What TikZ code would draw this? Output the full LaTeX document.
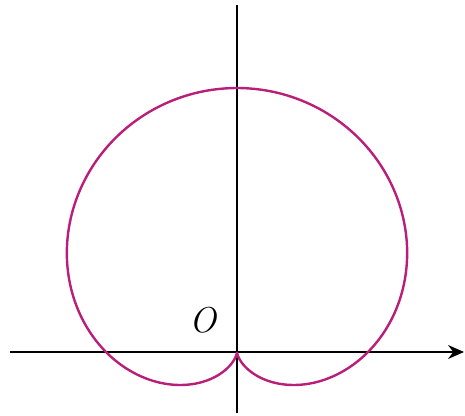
\documentclass[tikz,border=0pt]{standalone}
\usepackage{fontspec}
\usetikzlibrary{arrows.meta}
\definecolor{curvecol}{RGB}{185,30,120}
\tikzset{
  axis/.style={line width=1.8pt, black},
  curve/.style={line width=2.4pt, curvecol},
}
\begin{document}
\begin{tikzpicture}[x=1pt,y=1pt]
\useasboundingbox (-237,-63) rectangle (228,352);
\coordinate (xl) at (-227,0);
\coordinate (xr) at (227,0);
\coordinate (yb) at (0,-61);
\coordinate (yt) at (0,347);
\draw[axis, -{Stealth[length=16pt,width=14pt]}] (xl) -- (xr);
\draw[axis] (yb) -- (yt);
\draw[curve, smooth, samples=200, domain=-90:270, variable=\t]
  plot ({131*(1+sin(\t))*cos(\t)}, {132*(1+sin(\t))*sin(\t)});
\node[font=\fontsize{36}{40}\selectfont\itshape] (O) at (-34,32) {O};
\end{tikzpicture}
\end{document}
